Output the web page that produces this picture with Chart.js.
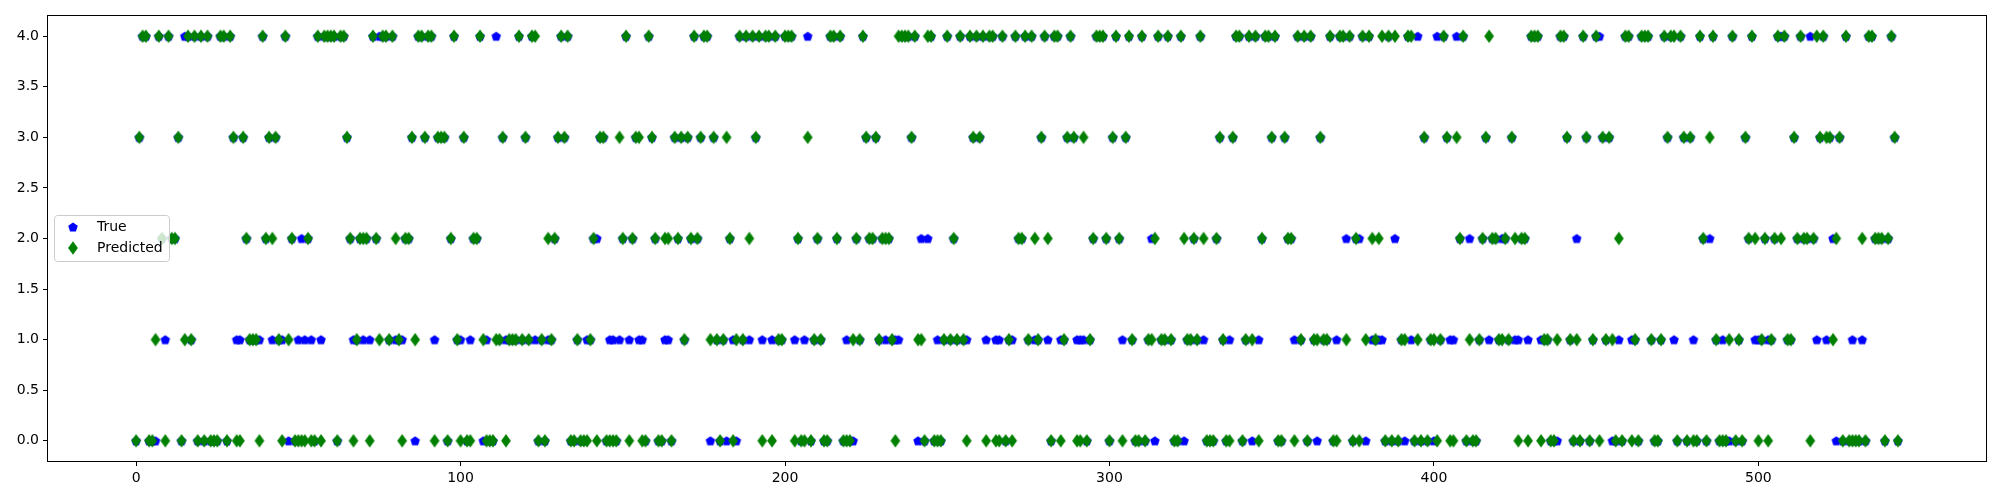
<!DOCTYPE html>
<html>
<head>
<meta charset="utf-8">
<script src="https://cdn.jsdelivr.net/npm/chart.js@4.4.1/dist/chart.umd.min.js"></script>
<style>
  html, body { margin: 0; padding: 0; background: #fff; }
  #wrap { width: 2000px; height: 500px; }
</style>
</head>
<body>
<div id="wrap"><canvas id="chart" width="2000" height="500"></canvas></div>
<script>
// class per sample (index = position in the array)
const trueValues = [
  0,3,4,4,0,0,0,4,2,1,4,2,2,3,0,4,4,1,4,0,
  4,0,4,0,0,0,4,4,0,4,3,1,1,3,2,1,1,1,1,4,
  2,3,1,3,1,1,4,0,2,0,1,2,1,2,1,0,4,1,4,4,
  4,4,0,4,4,3,2,1,1,2,1,2,1,4,2,4,4,4,1,4,
  1,1,1,2,2,3,0,4,4,3,4,4,1,3,3,3,0,2,4,1,
  1,3,0,1,2,2,4,0,1,0,0,4,1,3,1,1,1,1,4,1,
  3,1,4,1,0,1,0,1,1,2,3,4,3,4,0,0,1,0,0,1,
  1,2,2,3,3,0,1,1,0,1,2,4,1,2,3,1,1,0,4,3,
  2,0,0,1,1,0,3,2,3,1,3,2,4,2,3,4,4,0,3,1,
  0,1,0,2,1,0,4,1,4,1,4,3,4,1,4,4,1,4,1,1,
  4,4,4,1,2,0,1,4,0,1,2,1,0,0,4,4,2,4,0,1,
  0,0,2,1,4,3,2,2,3,1,2,1,2,1,1,1,4,4,4,3,
  4,0,2,0,2,4,0,1,0,1,4,1,2,1,4,1,1,4,3,4,
  3,4,1,4,4,1,1,4,0,1,1,4,2,2,4,1,4,1,1,3,
  4,1,0,4,4,1,1,3,4,3,1,1,1,0,1,2,4,4,4,2,
  0,3,4,2,1,3,4,1,0,0,4,0,1,2,0,4,1,1,4,1,
  0,0,4,0,1,1,2,1,4,1,0,0,0,2,3,1,0,1,3,4,
  4,0,1,4,0,4,1,2,4,4,3,4,0,0,3,2,2,1,4,1,
  4,0,4,1,0,3,1,1,4,0,1,4,4,2,4,0,2,2,4,0,
  4,1,1,1,1,0,4,0,2,0,1,0,4,1,0,4,0,3,0,1,
  0,4,1,4,3,1,1,4,2,4,0,2,0,0,1,2,3,1,2,2,
  1,2,2,1,3,1,1,2,2,1,4,4,4,1,1,1,0,0,0,4,
  4,3,1,0,2,0,4,3,0,1,4,4,3,1,3,0,0,1,0,4,
  4,1,1,0,4,4,4,1,0,0,1,4,3,4,1,0,4,3,0,3,
  1,0,4,2,0,2,4,1,0,1,0,0,4,0,1,0,3,2,4,1,
  1,1,2,1,1,2,4,4,4,1,1,3,2,4,2,2,4,2,1,3,
  4,1,3,2,0,3,0,4,0,1,0,0,1,0,4,4,2,2,2,0,
  2,4,3,0
];

const predictedValues = [
  0,3,4,4,0,0,1,4,2,0,4,2,2,3,0,1,4,1,4,0,
  4,0,4,0,0,0,4,4,0,4,3,0,0,3,2,1,1,1,0,4,
  2,3,2,3,1,0,4,1,2,0,0,0,0,2,0,0,4,0,4,4,
  4,4,0,4,4,3,2,0,1,2,2,2,0,4,2,1,4,4,1,4,
  2,1,0,2,2,3,1,4,4,3,4,4,0,3,3,3,0,2,4,1,
  0,3,0,0,2,2,4,1,0,0,0,1,1,3,0,1,1,1,4,1,
  3,1,4,4,0,1,0,2,1,2,3,4,3,4,0,0,1,0,0,0,
  1,2,0,3,3,0,0,0,0,3,2,4,0,2,3,3,0,0,4,3,
  2,0,0,2,2,0,3,2,3,1,3,2,4,2,3,4,4,1,3,1,
  0,1,3,2,0,1,4,1,4,2,4,3,4,0,4,4,0,4,1,1,
  4,4,4,0,2,0,0,3,0,1,2,1,0,0,4,4,2,4,0,0,
  0,1,2,1,4,3,2,2,3,1,2,2,2,1,0,4,4,4,4,3,
  4,1,1,0,4,4,0,0,0,1,4,1,2,1,4,1,0,4,3,4,
  3,4,0,4,4,0,0,4,0,1,0,4,2,2,4,1,4,2,1,3,
  4,2,0,4,4,0,1,3,4,3,0,0,3,0,1,2,4,4,4,2,
  0,3,4,2,0,3,4,1,0,0,4,0,1,1,2,4,1,1,4,1,
  0,0,4,2,1,1,2,1,4,2,0,0,0,2,3,1,0,0,3,4,
  4,0,1,4,1,4,0,2,4,4,3,4,0,0,3,2,2,0,4,1,
  4,0,4,1,1,3,1,1,4,0,0,4,4,1,4,0,2,0,4,1,
  4,2,1,2,4,0,4,0,4,0,1,1,4,4,0,1,0,3,0,1,
  1,0,1,4,3,0,0,3,2,4,0,1,0,0,1,2,3,4,2,2,
  1,1,2,1,3,2,0,2,2,0,4,4,4,0,1,1,0,0,1,4,
  4,3,1,0,1,0,4,3,0,1,4,0,3,1,3,1,0,2,0,4,
  4,0,1,0,4,4,4,1,0,0,1,4,3,4,4,0,4,3,0,3,
  0,0,4,2,0,3,4,1,0,0,0,1,4,0,1,0,3,2,4,2,
  0,1,2,0,1,2,4,2,4,1,1,3,2,4,2,2,0,2,4,3,
  4,3,3,1,2,3,0,4,0,0,0,0,2,0,4,4,2,2,2,0,
  2,4,3,0
];

const xTicks = [0, 100, 200, 300, 400, 500];
const yTicks = [0, 0.5, 1, 1.5, 2, 2.5, 3, 3.5, 4];
const seriesNames = ["True", "Predicted"];

const BLUE = "#0000ff";
const GREEN = "#008000";
const FONT = "'DejaVu Sans', sans-serif";

// matplotlib style markers drawn into small canvases
function pentagon(color) {
  const c = document.createElement("canvas");
  c.width = 12; c.height = 12;
  const ctx = c.getContext("2d");
  ctx.fillStyle = color;
  ctx.beginPath();
  for (let k = 0; k < 5; k++) {
    const a = -Math.PI / 2 + k * 2 * Math.PI / 5;
    const px = 6 + 5 * Math.cos(a), py = 6.4 + 5 * Math.sin(a);
    if (k === 0) ctx.moveTo(px, py); else ctx.lineTo(px, py);
  }
  ctx.closePath();
  ctx.fill();
  return c;
}

function thinDiamond(color) {
  const c = document.createElement("canvas");
  c.width = 12; c.height = 16;
  const ctx = c.getContext("2d");
  ctx.fillStyle = color;
  ctx.beginPath();
  ctx.moveTo(6, 1.2);
  ctx.lineTo(10.9, 8);
  ctx.lineTo(6, 14.8);
  ctx.lineTo(1.1, 8);
  ctx.closePath();
  ctx.fill();
  return c;
}

const trueMarker = pentagon(BLUE);
const predMarker = thinDiamond(GREEN);

const framePlugin = {
  id: "frame",
  afterDraw(chart) {
    const { ctx, chartArea: a } = chart;
    ctx.save();
    ctx.strokeStyle = "#000";
    ctx.lineWidth = 1;
    ctx.strokeRect(Math.round(a.left) - 0.5, Math.round(a.top) - 0.5,
      Math.round(a.right - a.left) + 1, Math.round(a.bottom - a.top) + 1);

    // legend box, middle left like matplotlib "best"
    const bx = 54, by = 215, bw = 115, bh = 46, r = 3;
    ctx.fillStyle = "rgba(255,255,255,0.8)";
    ctx.strokeStyle = "#cccccc";
    ctx.beginPath();
    ctx.roundRect(bx + 0.5, by + 0.5, bw, bh, r);
    ctx.fill();
    ctx.stroke();
    ctx.drawImage(trueMarker, 73 - 6, 227 - 6);
    ctx.drawImage(predMarker, 73 - 6, 248 - 8);
    ctx.fillStyle = "#000";
    ctx.font = "14px " + FONT;
    ctx.textBaseline = "middle";
    ctx.fillText(seriesNames[0], 97, 227);
    ctx.fillText(seriesNames[1], 97, 248);
    ctx.restore();
  }
};

new Chart(document.getElementById("chart"), {
  type: "scatter",
  data: {
    datasets: [
      {
        label: seriesNames[0],
        data: trueValues.map((v, i) => ({ x: i, y: v })),
        pointStyle: trueMarker,
        order: 2
      },
      {
        label: seriesNames[1],
        data: predictedValues.map((v, i) => ({ x: i, y: v })),
        pointStyle: predMarker,
        order: 1
      }
    ]
  },
  options: {
    responsive: false,
    animation: false,
    devicePixelRatio: 1,
    layout: { padding: { left: 0, right: 14, top: 16, bottom: 0 } },
    plugins: {
      legend: { display: false },
      tooltip: { enabled: false }
    },
    scales: {
      x: {
        type: "linear",
        min: -27.15,
        max: 570.15,
        afterBuildTicks: (s) => { s.ticks = xTicks.map(v => ({ value: v })); },
        afterFit: (s) => { s.height = 39; },
        border: { display: false },
        grid: { drawOnChartArea: false, drawTicks: true, tickLength: 5, color: "#000", lineWidth: 1 },
        ticks: { color: "#000", padding: 4, maxRotation: 0, font: { family: FONT, size: 14 },
          callback: (v) => String(v) }
      },
      y: {
        type: "linear",
        min: -0.2,
        max: 4.2,
        afterBuildTicks: (s) => { s.ticks = yTicks.map(v => ({ value: v })); },
        afterFit: (s) => { s.width = 48; },
        border: { display: false },
        grid: { drawOnChartArea: false, drawTicks: true, tickLength: 5, color: "#000", lineWidth: 1 },
        ticks: { color: "#000", padding: 4, font: { family: FONT, size: 14 },
          callback: (v) => Number(v).toFixed(1) }
      }
    }
  },
  plugins: [framePlugin]
});
</script>
</body>
</html>
